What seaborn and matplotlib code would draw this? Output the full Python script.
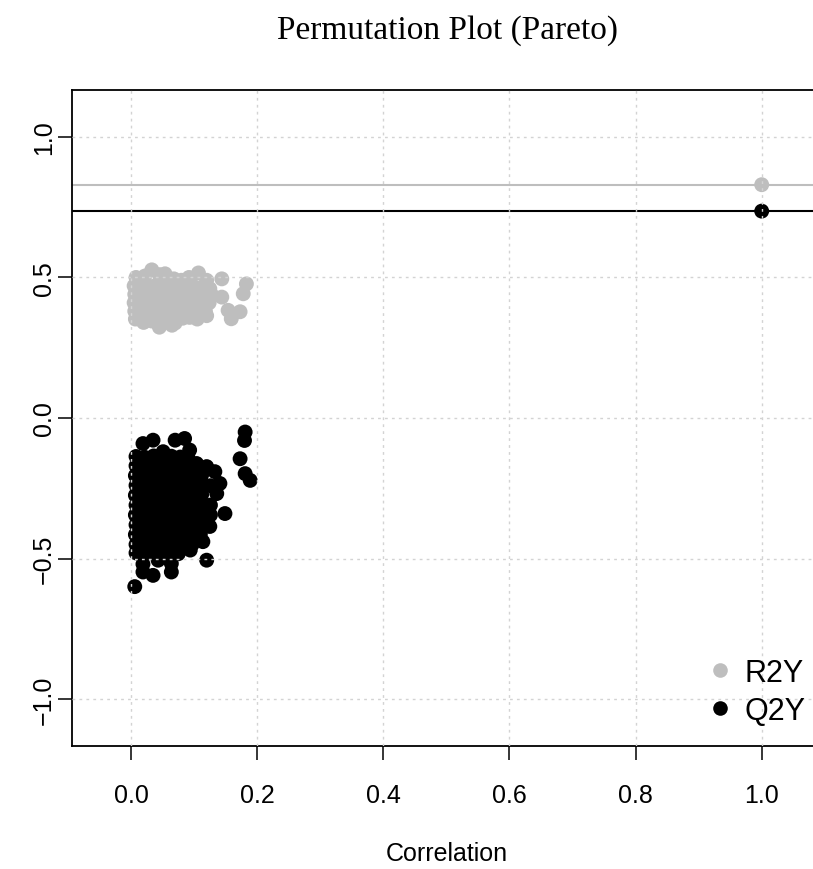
import numpy as np
import pandas as pd
import matplotlib
matplotlib.use("Agg")
import matplotlib.pyplot as plt
import seaborn as sns

# permuted models: correlation with original y vs. R2Y / Q2Y
r2y_corr = [0.008, 0.022, 0.033, 0.045, 0.054, 0.068, 0.080, 0.092, 0.107, 0.120, 0.144,
            0.005, 0.018, 0.030, 0.043, 0.056, 0.070, 0.084, 0.098, 0.112, 0.125, 0.183,
            0.006, 0.020, 0.034, 0.047, 0.060, 0.074, 0.088, 0.101, 0.115, 0.128, 0.178, 0.144,
            0.005, 0.019, 0.032, 0.046, 0.059, 0.073, 0.087, 0.100, 0.113, 0.124,
            0.006, 0.020, 0.034, 0.048, 0.062, 0.076, 0.090, 0.104, 0.118, 0.154, 0.173,
            0.007, 0.020, 0.033, 0.046, 0.058, 0.070, 0.082, 0.093, 0.105, 0.120, 0.159,
            0.045, 0.065, 1.000]
r2y_vals = [0.500, 0.505, 0.527, 0.510, 0.513, 0.495, 0.490, 0.500, 0.516, 0.490, 0.495,
            0.470, 0.475, 0.468, 0.478, 0.472, 0.466, 0.474, 0.470, 0.465, 0.460, 0.477,
            0.440, 0.445, 0.438, 0.442, 0.436, 0.444, 0.440, 0.437, 0.443, 0.438, 0.442, 0.430,
            0.410, 0.412, 0.405, 0.414, 0.408, 0.410, 0.404, 0.412, 0.406, 0.410,
            0.380, 0.376, 0.383, 0.378, 0.385, 0.377, 0.382, 0.375, 0.380, 0.383, 0.378,
            0.352, 0.340, 0.345, 0.330, 0.350, 0.338, 0.355, 0.358, 0.352, 0.364, 0.353,
            0.323, 0.330, 0.830]

q2y_corr = [0.008, 0.022, 0.036, 0.050, 0.064, 0.078, 0.090,
            0.019, 0.035, 0.051, 0.070, 0.085, 0.093,
            0.008, 0.023, 0.038, 0.053, 0.068, 0.083, 0.097, 0.104, 0.120,
            0.007, 0.022, 0.037, 0.052, 0.067, 0.082, 0.097, 0.112, 0.133,
            0.008, 0.023, 0.038, 0.053, 0.068, 0.083, 0.098, 0.113, 0.126, 0.141,
            0.007, 0.022, 0.037, 0.052, 0.067, 0.082, 0.097, 0.112, 0.136,
            0.008, 0.023, 0.038, 0.053, 0.068, 0.083, 0.098, 0.113, 0.126,
            0.007, 0.022, 0.037, 0.052, 0.067, 0.082, 0.097, 0.112, 0.126, 0.149,
            0.008, 0.023, 0.038, 0.053, 0.068, 0.083, 0.098, 0.113, 0.125,
            0.007, 0.022, 0.037, 0.052, 0.067, 0.082, 0.097, 0.110,
            0.008, 0.023, 0.038, 0.053, 0.068, 0.083, 0.097, 0.114,
            0.008, 0.022, 0.036, 0.050, 0.064, 0.075, 0.094, 0.120,
            0.019, 0.035, 0.064, 0.064, 0.043, 0.006, 0.019,
            0.181, 0.180, 0.173, 0.181, 0.189, 1.000]
q2y_vals = [-0.137, -0.140, -0.135, -0.138, -0.136, -0.139, -0.137,
            -0.091, -0.079, -0.120, -0.079, -0.073, -0.114,
            -0.170, -0.172, -0.168, -0.171, -0.169, -0.173, -0.170, -0.162, -0.173,
            -0.205, -0.207, -0.203, -0.206, -0.204, -0.208, -0.205, -0.203, -0.191,
            -0.240, -0.242, -0.238, -0.241, -0.239, -0.243, -0.240, -0.238, -0.241, -0.233,
            -0.275, -0.277, -0.273, -0.276, -0.274, -0.278, -0.275, -0.273, -0.269,
            -0.310, -0.312, -0.308, -0.311, -0.309, -0.313, -0.310, -0.308, -0.310,
            -0.345, -0.347, -0.343, -0.346, -0.344, -0.348, -0.345, -0.343, -0.345, -0.340,
            -0.380, -0.382, -0.378, -0.381, -0.379, -0.383, -0.380, -0.378, -0.386,
            -0.415, -0.417, -0.413, -0.416, -0.414, -0.418, -0.415, -0.413,
            -0.450, -0.452, -0.448, -0.451, -0.449, -0.453, -0.450, -0.440,
            -0.480, -0.482, -0.478, -0.481, -0.479, -0.483, -0.470, -0.506,
            -0.548, -0.560, -0.548, -0.518, -0.506, -0.600, -0.520,
            -0.050, -0.080, -0.145, -0.198, -0.222, 0.736]

# original model
r2y_model = 0.830
q2y_model = 0.736

series_names = ["R2Y", "Q2Y"]
series_colors = ["#BEBEBE", "#000000"]

df = pd.concat([
    pd.DataFrame({"Correlation": r2y_corr, "value": r2y_vals, "series": "R2Y"}),
    pd.DataFrame({"Correlation": q2y_corr, "value": q2y_vals, "series": "Q2Y"}),
], ignore_index=True)

sns.set_theme(style="ticks")
plt.rcParams["font.family"] = ["Liberation Sans", "DejaVu Sans"]
plt.rcParams["text.color"] = "black"
plt.rcParams["axes.labelcolor"] = "black"

W, H = 813, 870
fig = plt.figure(figsize=(W / 100, H / 100), dpi=100)

# plot region in pixels (right edge runs past the figure, as in the reference)
left_px, right_px, top_px, bottom_px = 71.5, 822.5, 90.7, 746.7
ax = fig.add_axes([left_px / W, 1 - bottom_px / H,
                   (right_px - left_px) / W, (bottom_px - top_px) / H])

sns.scatterplot(data=df, x="Correlation", y="value", hue="series",
                hue_order=series_names, palette=dict(zip(series_names, series_colors)),
                s=115, linewidth=0, alpha=1, ax=ax, legend=True, zorder=1)

ax.axhline(r2y_model, color=series_colors[0], lw=1.5, zorder=2)
ax.axhline(q2y_model, color=series_colors[1], lw=1.5, zorder=2)

ax.set_xlim(-0.0943, 1.0964)
ax.set_ylim(-1.166, 1.168)
ax.set_xticks([0.0, 0.2, 0.4, 0.6, 0.8, 1.0])
ax.set_yticks([-1.0, -0.5, 0.0, 0.5, 1.0])
ax.set_xticklabels(["0.0", "0.2", "0.4", "0.6", "0.8", "1.0"])
ax.set_yticklabels(["\u22121.0", "\u22120.5", "0.0", "0.5", "1.0"])

ax.set_axisbelow(False)
ax.grid(True, color="#D3D3D3", linestyle=(0, (2, 3)), linewidth=1.0)

for sp in ax.spines.values():
    sp.set_color("black")
    sp.set_linewidth(1.3)

ax.tick_params(axis="both", direction="out", length=10, width=1.1, colors="black",
               labelsize=18)
ax.tick_params(axis="x", pad=17)
ax.tick_params(axis="y", pad=1)
plt.setp(ax.get_yticklabels(), rotation=90, va="center")

ax.set_xlabel("Correlation", fontsize=18, labelpad=24, color="black")
ax.set_ylabel("")

handles, labels = ax.get_legend_handles_labels()
for h in handles:
    h.set_markersize(10.5)
ax.legend(handles, labels, loc="upper left", bbox_to_anchor=(704.7 / W, 1 - 659 / H),
          bbox_transform=fig.transFigure, frameon=False, fontsize=22,
          borderpad=0, borderaxespad=0, handlelength=1.0, handletextpad=0.3,
          labelspacing=0.25)

fig.text(447 / W, 1 - 39 / H, "Permutation Plot (Pareto)", ha="center", va="baseline",
         fontsize=24, color="black", family=["Liberation Serif", "DejaVu Serif"])

fig.savefig("out.png", dpi=100)
